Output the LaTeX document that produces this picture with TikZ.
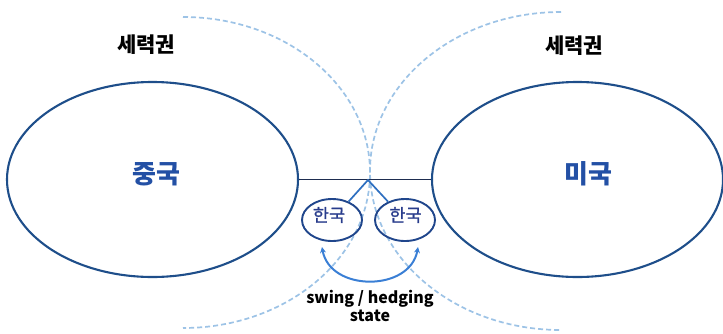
\documentclass[tikz,border=0pt]{standalone}
\usepackage{fontspec}
\usetikzlibrary{shapes.geometric,arrows.meta}
\newfontfamily\kr{Noto Sans CJK KR}
\newfontfamily\krsemi{Noto Sans CJK KR}[FakeBold=1.2]
\definecolor{blocline}{RGB}{30,78,138}
\definecolor{bloctext}{RGB}{35,80,165}
\definecolor{korline}{RGB}{32,70,140}
\definecolor{kortext}{RGB}{40,60,140}
\definecolor{linkline}{RGB}{30,45,80}
\definecolor{tieline}{RGB}{46,111,192}
\definecolor{swingline}{RGB}{58,127,213}
\definecolor{sphereline}{RGB}{157,195,230}
\begin{document}
\begin{tikzpicture}[x=1pt,y=-1pt,
		bloc/.style={ellipse,draw=blocline,line width=2.1pt,minimum width=291pt,minimum height=195pt,inner sep=0pt},
		bloclabel/.style={font=\kr\bfseries\fontsize{26}{30}\selectfont,text=bloctext,inner sep=0pt},
		sphere/.style={draw=sphereline,line width=1.7pt,dash pattern=on 5pt off 3pt},
		korea/.style={ellipse,draw=korline,line width=1.9pt,minimum width=60pt,minimum height=42pt,inner sep=0pt},
		korlabel/.style={font=\krsemi\fontsize{17.5}{20}\selectfont,text=kortext,inner sep=0pt},
		zonelabel/.style={font=\kr\bfseries\fontsize{21}{24}\selectfont,inner sep=0pt}]
		\useasboundingbox (0,0) rectangle (723,333);
		\draw[sphere] (183,17) arc[start angle=-90,end angle=90,x radius=187,y radius=155.5];
		\draw[sphere] (561,12) arc[start angle=-90,end angle=-270,x radius=191,y radius=159];
		\node[bloc] (china) at (152.5,179.5) {};
		\node[bloc] (usa) at (577.5,179.5) {};
		\node[bloclabel] (chinalabel) at (156,174) {중국};
		\node[bloclabel] (usalabel) at (588,174) {미국};
		\node[zonelabel] (chinazone) at (146,45) {세력권};
		\node[zonelabel] (usazone) at (574,46) {세력권};
		\draw[linkline,line width=1.7pt] (china.east) -- (usa.west);
		\coordinate (pivot) at (368,180);
		\node[korea] (kora) at (332,220) {};
		\node[korea] (korb) at (405,220) {};
		\node[korlabel] (koralabel) at (329,215) {한국};
		\node[korlabel] (korblabel) at (405.5,215) {한국};
		\draw[tieline,line width=1.7pt] (kora) -- (pivot) -- (korb);
		\coordinate (swinga) at (322,247);
		\coordinate (swingb) at (418,247);
		\draw[swingline,line width=2pt,{Stealth[length=6pt,width=6pt]}-{Stealth[length=6pt,width=6pt]}]
			(swinga) .. controls (330,292) and (410,292) .. (swingb);
		\node[font=\kr\bfseries\fontsize{16}{18}\selectfont,align=center,inner sep=0pt] (swing) at (370,306) {swing / hedging\\state};
	\end{tikzpicture}
\end{document}
